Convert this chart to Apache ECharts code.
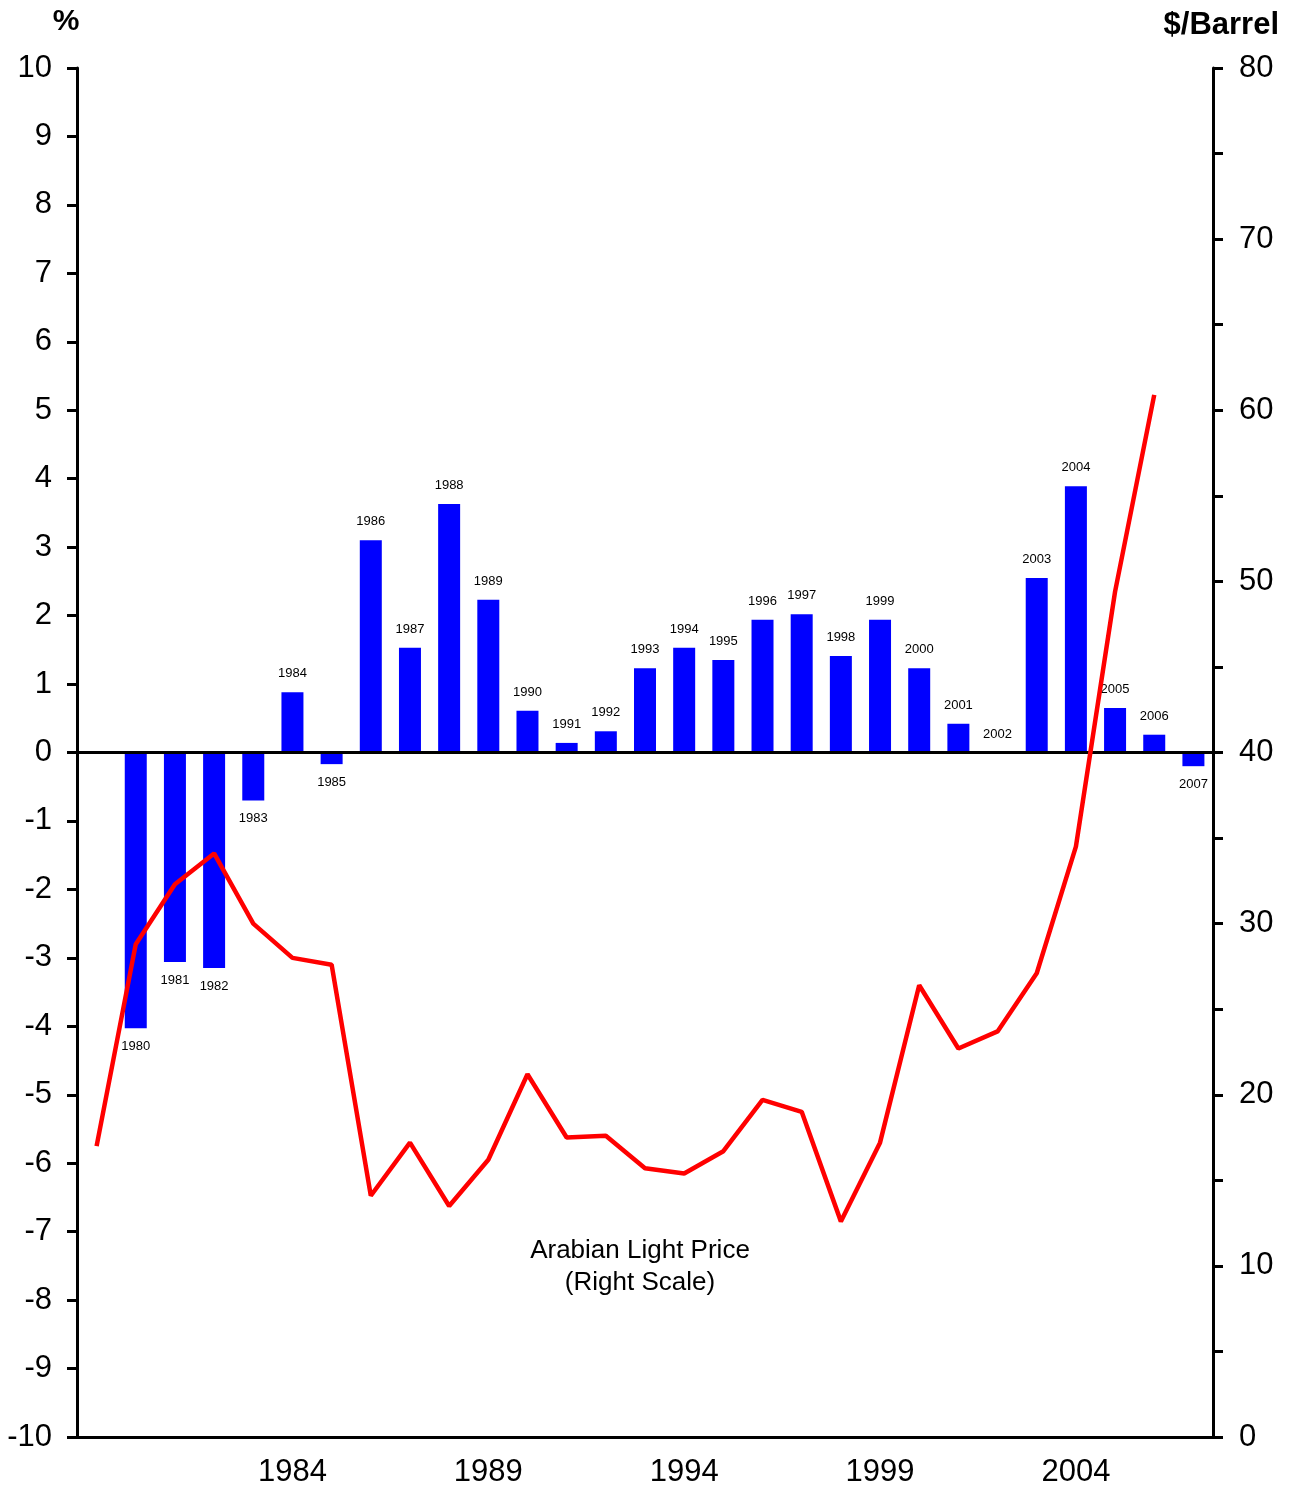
<!DOCTYPE html>
<html>
<head>
<meta charset="utf-8">
<script src="https://cdn.jsdelivr.net/npm/echarts@6/dist/echarts.min.js"></script>
<style>
html,body{margin:0;padding:0;background:#fff;}
#chart{width:1296px;height:1489px;}
</style>
</head>
<body>
<div id="chart"></div>
<script>
const years = ['1979','1980','1981','1982','1983','1984','1985','1986','1987','1988','1989','1990','1991','1992','1993','1994','1995','1996','1997','1998','1999','2000','2001','2002','2003','2004','2005','2006','2007'];
const growthValues = [null, -4.03, -3.06, -3.15, -0.70, 0.88, -0.17, 3.10, 1.53, 3.63, 2.23, 0.61, 0.14, 0.31, 1.23, 1.53, 1.35, 1.94, 2.02, 1.41, 1.94, 1.23, 0.42, 0.0, 2.55, 3.89, 0.65, 0.26, -0.20];
const priceValues = [17.0, 28.8, 32.3, 34.1, 30.0, 28.0, 27.6, 14.1, 17.2, 13.5, 16.2, 21.2, 17.5, 17.6, 15.7, 15.4, 16.7, 19.7, 19.0, 12.6, 17.2, 26.4, 22.7, 23.7, 27.1, 34.5, 49.4, 60.9, null];
const leftTitle = '%';
const rightTitle = '$/Barrel';
const noteLines = ['Arabian Light Price', '(Right Scale)'];

const FONT = '"Liberation Sans", Arial, sans-serif';
const chart = echarts.init(document.getElementById('chart'));

const barData = growthValues.map(function (v) {
  if (v === null) return null;
  return { value: v, label: { position: v < 0 ? 'bottom' : 'top' } };
});

chart.setOption({
  animation: false,
  backgroundColor: '#fff',
  grid: { left: 77, right: 83, top: 68, bottom: 52, containLabel: false },
  xAxis: {
    type: 'category',
    data: years,
    boundaryGap: true,
    axisLine: { onZero: false, lineStyle: { color: '#000', width: 3 } },
    axisTick: { show: false },
    axisLabel: {
      interval: function (idx) { return (idx % 5) === 0 && idx > 0; },
      color: '#000', fontSize: 31, fontFamily: FONT, margin: 20
    },
    splitLine: { show: false }
  },
  yAxis: [
    {
      type: 'value', min: -10, max: 10, interval: 1,
      axisLine: { show: true, lineStyle: { color: '#000', width: 3 } },
      axisTick: { show: true, inside: false, length: 10, lineStyle: { color: '#000', width: 3 } },
      axisLabel: { color: '#000', fontSize: 31, fontFamily: FONT, margin: 25 },
      splitLine: { show: false }
    },
    {
      type: 'value', min: 0, max: 80, interval: 10, position: 'right',
      axisLine: { show: true, lineStyle: { color: '#000', width: 3 } },
      axisTick: { show: true, inside: false, length: 10, lineStyle: { color: '#000', width: 3 } },
      minorTick: { show: true, splitNumber: 2, length: 10, lineStyle: { color: '#000', width: 3 } },
      axisLabel: { color: '#000', fontSize: 31, fontFamily: FONT, margin: 26 },
      splitLine: { show: false }
    }
  ],
  graphic: [
    { type: 'text', x: 66, y: 22, style: { text: leftTitle, font: 'bold 30px ' + FONT, fill: '#000', align: 'center', verticalAlign: 'middle' } },
    { type: 'text', x: 1279, y: 25, style: { text: rightTitle, font: 'bold 31px ' + FONT, fill: '#000', align: 'right', verticalAlign: 'middle' } },
    { type: 'text', x: 640, y: 1267, style: { text: noteLines.join('\n'), font: '26px ' + FONT, fill: '#000', align: 'center', verticalAlign: 'middle', lineHeight: 32 } }
  ],
  series: [
    {
      type: 'bar',
      yAxisIndex: 0,
      data: barData,
      barWidth: 22,
      itemStyle: { color: '#0000ff' },
      label: {
        show: true,
        formatter: function (p) { return p.name; },
        color: '#000', fontSize: 13, fontFamily: FONT, distance: 12
      },
      markLine: {
        silent: true, symbol: 'none', label: { show: false },
        lineStyle: { color: '#000', width: 3, type: 'solid' },
        data: [{ yAxis: 0 }]
      },
      z: 2
    },
    {
      type: 'line',
      yAxisIndex: 1,
      data: priceValues,
      symbol: 'none',
      lineStyle: { color: '#ff0000', width: 4.5 },
      z: 5
    }
  ]
});
</script>
</body>
</html>
